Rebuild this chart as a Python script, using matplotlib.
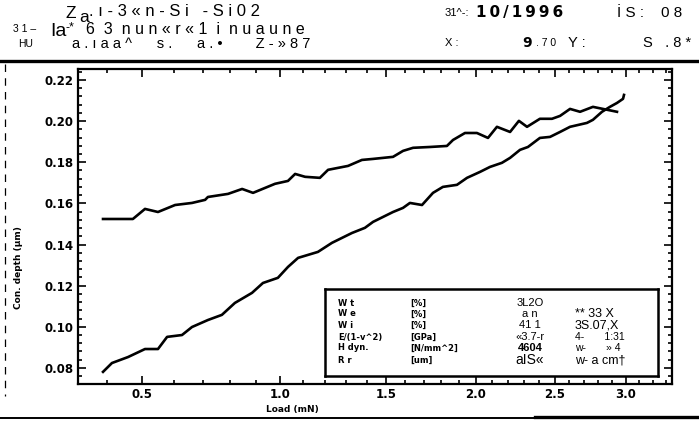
import numpy as np
import matplotlib
matplotlib.use("Agg")
from matplotlib import pyplot as plt
from matplotlib.lines import Line2D
from matplotlib.ticker import FixedLocator, AutoMinorLocator

# loading branch (lower curve): load [mN], contact depth [um]
load_lower = [0.390, 0.414, 0.459, 0.509, 0.549, 0.578, 0.627, 0.661, 0.717, 0.768,
              0.817, 0.884, 0.928, 0.990, 1.033, 1.077, 1.166, 1.231, 1.327, 1.391,
              1.432, 1.483, 1.535, 1.588, 1.625, 1.691, 1.752, 1.808, 1.889, 1.948,
              2.026, 2.086, 2.160, 2.211, 2.274, 2.325, 2.403, 2.470, 2.537, 2.605,
              2.722, 2.764, 2.828, 2.885, 2.936, 2.980, 2.987]
depth_lower = [0.0781, 0.0824, 0.0853, 0.0892, 0.0892, 0.0951, 0.0960, 0.0999, 0.1033, 0.1058,
               0.1116, 0.1165, 0.1213, 0.1238, 0.1291, 0.1335, 0.1364, 0.1408, 0.1456, 0.1481,
               0.1510, 0.1534, 0.1558, 0.1578, 0.1602, 0.1592, 0.1651, 0.1680, 0.1690, 0.1724,
               0.1753, 0.1777, 0.1797, 0.1821, 0.1860, 0.1874, 0.1918, 0.1923, 0.1947, 0.1972,
               0.1991, 0.2006, 0.2045, 0.2069, 0.2088, 0.2108, 0.2127]

# upper curve
load_upper = [0.390, 0.473, 0.509, 0.549, 0.604, 0.661, 0.707, 0.717, 0.791, 0.845,
              0.888, 0.978, 1.033, 1.064, 1.108, 1.175, 1.213, 1.308, 1.376, 1.432,
              1.535, 1.588, 1.642, 1.735, 1.831, 1.866, 1.936, 2.007, 2.074, 2.129,
              2.211, 2.267, 2.319, 2.403, 2.483, 2.537, 2.605, 2.674, 2.764, 2.835, 2.936]
depth_upper = [0.1524, 0.1524, 0.1573, 0.1558, 0.1592, 0.1602, 0.1617, 0.1631, 0.1646, 0.1670,
               0.1651, 0.1695, 0.1709, 0.1743, 0.1729, 0.1724, 0.1763, 0.1782, 0.1811, 0.1816,
               0.1826, 0.1855, 0.1870, 0.1874, 0.1879, 0.1908, 0.1942, 0.1942, 0.1918, 0.1972,
               0.1947, 0.2001, 0.1972, 0.2011, 0.2011, 0.2025, 0.2059, 0.2045, 0.2069, 0.2059, 0.2045]

x_ticks = [0.5, 1.0, 1.5, 2.0, 2.5, 3.0]
x_ticklabels = ["0.5", "1.0", "1.5", "2.0", "2.5", "3.0"]
y_ticks = [0.08, 0.10, 0.12, 0.14, 0.16, 0.18, 0.20, 0.22]
y_ticklabels = ["0.08", "0.10", "0.12", "0.14", "0.16", "0.18", "0.20", "0.22"]

# info box contents (as printed on the scan)
box_names = ["W t", "W e", "W i", "E/(1-v^2)", "H dyn.", "R r"]
box_units = ["[%]", "[%]", "[%]", "[GPa]", "[N/mm^2]", "[um]"]
box_col3 = ["3L2O", "a n", "41 1", "«3.7-r", "4604", "aIS«"]
box_col4 = ["", "** 33 X", "3S.07,X", "4-       1:31", "w-       » 4", "w- a cm\u2020"]

W, H = 699, 423


def fx(px):
    return px / W


def fy(py):
    return 1 - py / H


def spread(s, gap=" "):
    # the scanned text layer is letter-spaced
    return gap.join(s)


fig = plt.figure(figsize=(W / 100, H / 100), dpi=100)
sans = ["Liberation Sans", "DejaVu Sans"]

# main axes
ax = fig.add_axes([fx(78), fy(384), fx(672) - fx(78), fy(69) - fy(384)])
ax.set_xscale('function', functions=(lambda v: np.sqrt(np.clip(v, 0, None)), np.square))
ax.plot(load_lower, depth_lower, color='black', lw=1.9)
ax.plot(load_upper, depth_upper, color='black', lw=1.9)
ax.set_xlim(0.3266, 3.349)
ax.set_ylim(0.0722, 0.2253)

ax.xaxis.set_major_locator(FixedLocator(x_ticks))
ax.xaxis.set_minor_locator(FixedLocator(np.arange(0.4, 3.35, 0.1)))
ax.set_xticklabels(x_ticklabels, fontsize=8.5, fontweight='bold')
ax.set_yticks(y_ticks)
ax.set_yticklabels(y_ticklabels, fontsize=8.5, fontweight='bold')
ax.yaxis.set_minor_locator(AutoMinorLocator(5))
ax.tick_params(which='both', direction='in', top=True, right=True, width=1.2)
ax.tick_params(which='major', length=6, pad=3)
ax.tick_params(which='minor', length=3)
for sp in ax.spines.values():
    sp.set_linewidth(1.6)

fig.text(fx(292), fy(409), "Load (mN)", fontsize=6.5, fontweight='bold',
         ha='center', va='center')
fig.text(fx(19), fy(268), "Con. depth (\u00b5m)", fontsize=6.5, fontweight='bold',
         rotation=90, ha='center', va='center')

# info box
bx = fig.add_axes([fx(325), fy(376), fx(658) - fx(325), fy(289) - fy(376)])
bx.set_xticks([])
bx.set_yticks([])
for sp in bx.spines.values():
    sp.set_linewidth(1.8)
row_y = [303, 314, 325, 337, 348, 360]
for i, yy in enumerate(row_y):
    fig.text(fx(338), fy(yy), box_names[i], fontsize=6, fontweight='bold', va='center')
    fig.text(fx(410), fy(yy), box_units[i], fontsize=6, fontweight='bold', va='center')
    fig.text(fx(530), fy(yy), box_col3[i], fontsize=8 if i != 5 else 10,
             family=sans, ha='center', va='center',
             fontweight='bold' if i == 4 else 'normal')
    fig.text(fx(575), fy(yy), box_col4[i], fontsize=9 if i in (1, 2, 5) else 7.5,
             family=sans, va='center')

# scan header, left block
fig.text(fx(66), fy(13), "Z", fontsize=12.5, family=sans, va='center')
fig.text(fx(79), fy(17), "a", fontsize=12.5, family=sans, va='center')
fig.text(fx(89), fy(12), spread(".\u0131-3«n-Si") + "   " + spread("-Si02"),
         fontsize=12, family=sans, va='center')
fig.text(fx(13), fy(29), "3 1 \u2013", fontsize=7.5, family=sans, va='center')
fig.text(fx(50), fy(31), "Ia", fontsize=14, family=sans, va='center')
fig.text(fx(66), fy(27), "-*", fontsize=9, family=sans, va='center')
fig.text(fx(86), fy(29), "6  3  " + spread("nun«r«1") + "  i  " + spread("nuaune"),
         fontsize=11.5, family=sans, va='center')
fig.text(fx(18), fy(44), "HU", fontsize=7.5, family=sans, va='center')
fig.text(fx(72), fy(44), spread("a.\u0131aa^") + "      " + spread("s.") + "      "
         + spread("a.\u2022") + "        " + spread("Z-»87"),
         fontsize=10.5, family=sans, va='center')

# scan header, right block
fig.text(fx(445), fy(13), "31^-:", fontsize=8, family=sans, va='center')
fig.text(fx(476), fy(12), spread("10/1996", "\u2009"), fontsize=11, fontweight='bold',
         va='center')
fig.text(fx(617), fy(13), "\u0130 S :    0 8", fontsize=11, family=sans, va='center')
fig.text(fx(445), fy(43), "X :", fontsize=8, family=sans, va='center')
fig.text(fx(522), fy(43), "9", fontsize=10, fontweight='bold', va='center')
fig.text(fx(536), fy(43), ". 7 0", fontsize=7.5, family=sans, va='center')
fig.text(fx(568), fy(43), "Y :", fontsize=10.5, family=sans, va='center')
fig.text(fx(643), fy(43), "S   . 8 *", fontsize=10.5, family=sans, va='center')

# scan rules
fig.add_artist(Line2D([0, 1], [fy(61), fy(61)], color='black', lw=2.4,
                      transform=fig.transFigure))
fig.add_artist(Line2D([fx(5), fx(5)], [fy(64), fy(396)], color='black', lw=0.9,
                      ls=(0, (6, 5)), transform=fig.transFigure))
fig.add_artist(Line2D([0, 1], [fy(418), fy(418)], color='black', lw=1.4,
                      transform=fig.transFigure))
fig.add_artist(Line2D([fx(535), 1], [fy(417), fy(417)], color='black', lw=2.4,
                      transform=fig.transFigure))

fig.savefig("out.png", dpi=100)
